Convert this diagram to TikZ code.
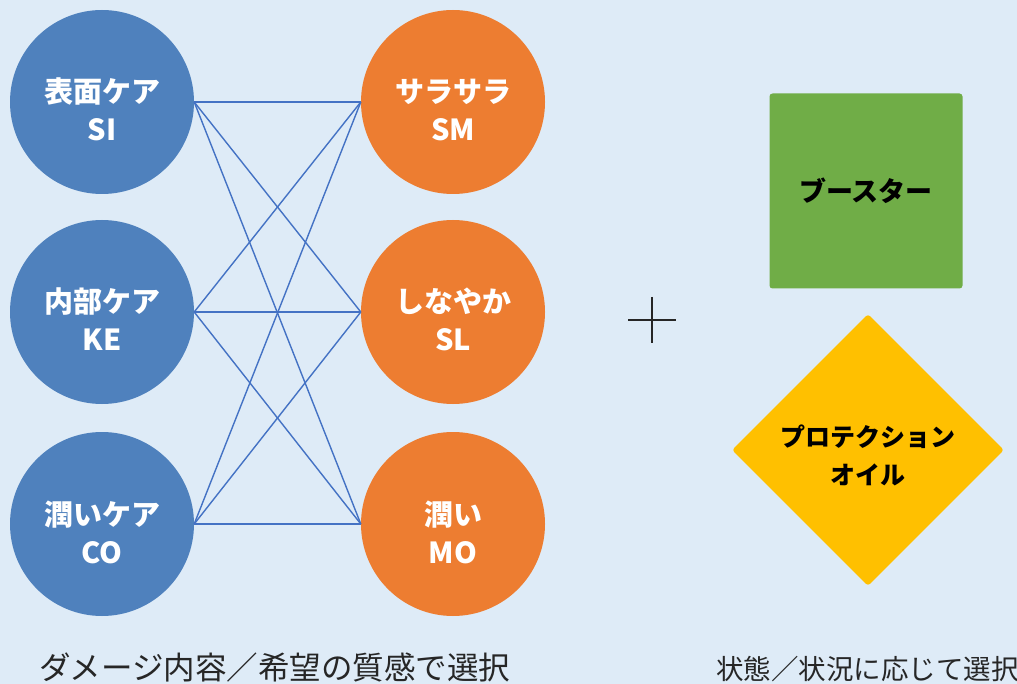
\documentclass[tikz,border=0pt]{standalone}
\usepackage{fontspec}
\setmainfont{Noto Sans CJK JP}
\usetikzlibrary{shapes.geometric}
\definecolor{bg}{RGB}{222,235,247}
\definecolor{cblue}{RGB}{79,129,189}
\definecolor{corange}{RGB}{237,125,49}
\definecolor{lineblue}{RGB}{68,114,196}
\definecolor{cgreen}{RGB}{112,173,71}
\definecolor{cyellow}{RGB}{255,192,0}
\tikzset{
  circ/.style={circle, minimum size=184pt, inner sep=0pt, text=white, align=center,
    text height=79pt, text depth=1pt,
    font=\fontsize{29}{38}\selectfont\bfseries},
  lcirc/.style={circ, fill=cblue},
  rcirc/.style={circ, fill=corange},
  link/.style={draw=lineblue, line width=1.4pt},
  sqbox/.style={fill=cgreen, rounded corners=3pt, minimum width=193pt, minimum height=195pt,
    inner sep=0pt, font=\fontsize{27}{34}\selectfont\bfseries},
  dia/.style={diamond, fill=cyellow, minimum width=272pt, minimum height=272pt, inner sep=0pt,
    rounded corners=3pt, align=center, text height=70pt, text depth=1pt,
    font=\fontsize{25}{38}\selectfont\bfseries},
  caption/.style={anchor=west, inner sep=0pt, text=black!85}
}
\begin{document}
\begin{tikzpicture}[x=1pt,y=-1pt]
\fill[bg] (0,0) rectangle (1017,684);
\useasboundingbox (0,0) rectangle (1017,684);
\node[lcirc] (l1) at (102,102) {表面ケア\\SI};
\node[lcirc] (l2) at (102,312) {内部ケア\\KE};
\node[lcirc] (l3) at (102,524) {潤いケア\\CO};
\node[rcirc] (r1) at (453,102) {サラサラ\\SM};
\node[rcirc] (r2) at (453,312) {しなやか\\SL};
\node[rcirc] (r3) at (453,524) {潤い\\MO};
\foreach \a in {1,2,3}{
  \foreach \b in {1,2,3}{
    \draw[link] (l\a.east) -- (r\b.west);
  }
}
\draw[black!85, line width=1.6pt] (628,320) -- (676,320);
\draw[black!85, line width=1.6pt] (652,297) -- (652,343);
\node[sqbox] (boost) at (866,191) {ブースター};
\node[dia] (oil) at (868,450) {プロテクション\\オイル};
\node[caption, font=\fontsize{31.5}{36}\selectfont] (capl) at (39,668) {ダメージ内容／希望の質感で選択};
\node[caption, font=\fontsize{27.5}{32}\selectfont] (capr) at (716,669) {状態／状況に応じて選択};
\end{tikzpicture}
\end{document}
